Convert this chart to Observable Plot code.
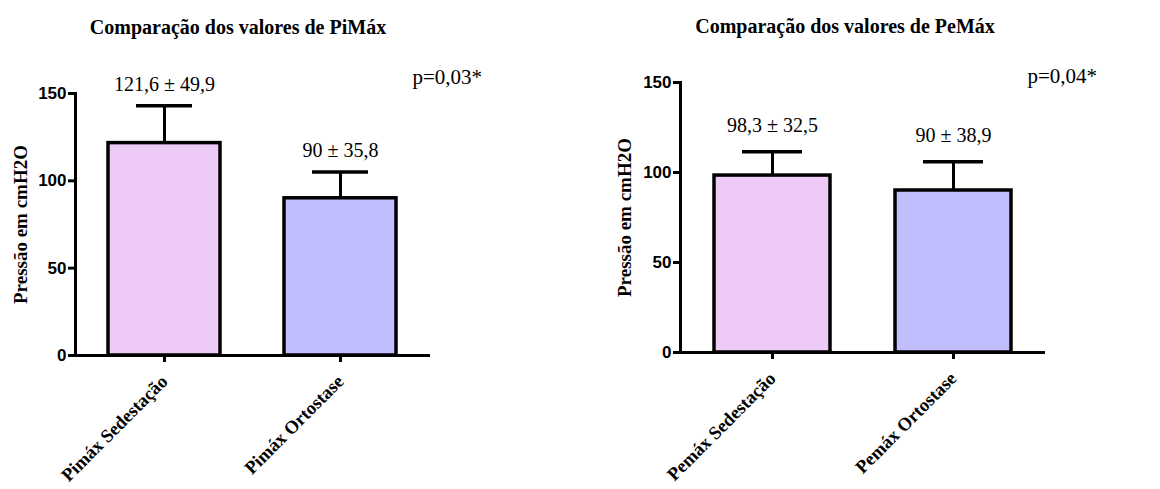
<!DOCTYPE html>
<html>
<head>
<meta charset="utf-8">
<script src="https://cdn.jsdelivr.net/npm/d3@7"></script>
<script src="https://cdn.jsdelivr.net/npm/@observablehq/plot@0.6"></script>
<style>
  html, body { margin: 0; padding: 0; background: #fff; }
  #wrap { display: flex; width: 1160px; height: 489px; }
  #wrap svg { display: block; }
  svg [aria-label="y-axis tick label"] text { font-family: "Liberation Sans", Arial, sans-serif; font-weight: bold; font-size: 17px; fill: #000; }
  svg [aria-label="x-axis tick label"] text { font-family: "Liberation Serif", "Times New Roman", serif; font-weight: bold; font-size: 18.5px; fill: #000; }
</style>
</head>
<body>
<div id="wrap"></div>
<script>
// ---- data ----
const piTitle = "Comparação dos valores de PiMáx";
const piCategories = ["Pimáx Sedestação", "Pimáx Ortostase"];
const piMeans = [121.6, 90];
const piErrors = [21.4, 15];
const piLabels = ["121,6 ± 49,9", "90 ± 35,8"];
const piP = "p=0,03*";

const peTitle = "Comparação dos valores de PeMáx";
const peCategories = ["Pemáx Sedestação", "Pemáx Ortostase"];
const peMeans = [98.3, 90];
const peErrors = [13.2, 16];
const peLabels = ["98,3 ± 32,5", "90 ± 38,9"];
const peP = "p=0,04*";

const yTicks = [0, 50, 100, 150];
const yLabel = "Pressão em cmH2O";
const barColors = ["#EECBF7", "#C0BEFD"];

const serif = "Liberation Serif";

function panel(cfg) {
  const rows = cfg.categories.map((c, i) => ({
    cat: c, mean: cfg.means[i], err: cfg.errors[i], label: cfg.labels[i], color: barColors[i]
  }));
  return Plot.plot({
    width: 580,
    height: 489,
    marginLeft: cfg.ml,
    marginRight: cfg.mr,
    marginTop: cfg.mt,
    marginBottom: cfg.mb,
    style: { background: "#fff", overflow: "visible" },
    x: { domain: cfg.categories, paddingInner: 0.35, paddingOuter: 0.18, label: null },
    y: { domain: [0, 150], ticks: yTicks, label: null },
    color: { type: "identity" },
    marks: [
      Plot.barY(rows, { x: "cat", y: "mean", fill: "color", stroke: "#000", strokeWidth: 3.5, insetLeft: 1, insetRight: 1 }),
      Plot.ruleX(rows, { x: "cat", y1: "mean", y2: d => d.mean + d.err, stroke: "#000", strokeWidth: 3 }),
      Plot.tickY(rows, { x: "cat", y: d => d.mean + d.err, stroke: "#000", strokeWidth: 3.5, insetLeft: 29, insetRight: 29 }),
      Plot.text(rows, { x: "cat", y: d => d.mean + d.err, text: "label", dy: cfg.labelDy, lineAnchor: "bottom", fontSize: 20, fontFamily: serif, fill: "#000" }),
      Plot.ruleY([0], { stroke: "#000", strokeWidth: 3 }),
      Plot.frame({ anchor: "left", stroke: "#000", strokeWidth: 3 }),
      Plot.axisY({ ticks: yTicks, tickSize: 7, tickPadding: 2, strokeWidth: 3, label: null }),
      Plot.axisX({ tickSize: 7, tickPadding: 16, strokeWidth: 3, tickRotate: -45, label: null }),
      Plot.text([cfg.title], { frameAnchor: "top", dx: cfg.titleDx, dy: cfg.titleDy, lineAnchor: "bottom", fontSize: 20, fontWeight: "bold", fontFamily: serif, letterSpacing: -0.3, fill: "#000" }),
      Plot.text([cfg.p], { frameAnchor: "top-right", textAnchor: "start", dx: cfg.pDx, dy: cfg.pDy, lineAnchor: "bottom", fontSize: 21, fontFamily: serif, fill: "#000" }),
      Plot.text([yLabel], { frameAnchor: "left", textAnchor: "middle", rotate: -90, dx: cfg.ylDx, fontSize: 19, fontWeight: "bold", fontFamily: serif, letterSpacing: 2.4, fill: "#000" })
    ]
  });
}

const wrap = document.getElementById("wrap");
wrap.appendChild(panel({
  categories: piCategories, means: piMeans, errors: piErrors, labels: piLabels,
  title: piTitle, p: piP,
  ml: 75, mr: 150, mt: 93, mb: 134,
  labelDy: -15, titleDx: -15, titleDy: -60, pDx: -18, pDy: -10, ylDx: -55
}));
wrap.appendChild(panel({
  categories: peCategories, means: peMeans, errors: peErrors, labels: peLabels,
  title: peTitle, p: peP,
  ml: 100, mr: 115, mt: 82, mb: 137,
  labelDy: -20, titleDx: -18, titleDy: -50, pDx: -18, pDy: 0, ylDx: -56
}));
</script>
</body>
</html>
